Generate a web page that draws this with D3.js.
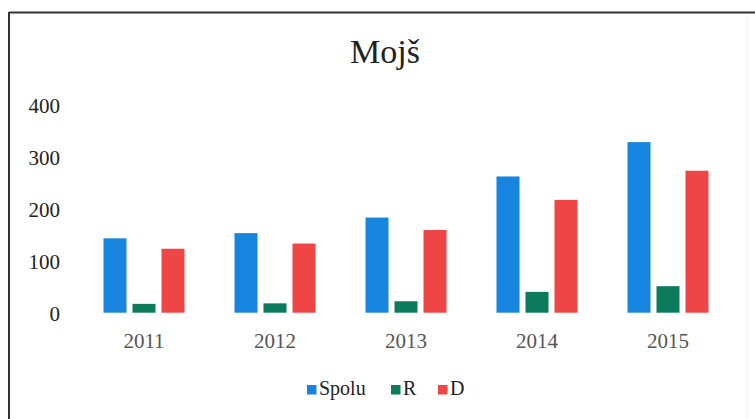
<!DOCTYPE html>
<html>
<head>
<meta charset="utf-8">
<script src="https://cdn.jsdelivr.net/npm/d3@7/dist/d3.min.js"></script>
<style>
  html, body { margin: 0; padding: 0; background: #fff; }
  svg { display: block; }
</style>
</head>
<body>
<svg id="chart" width="755" height="419" font-family="Liberation Serif, Times New Roman, serif"></svg>
<script>
const title = "Mojš";
const categories = ["2011", "2012", "2013", "2014", "2015"];
const seriesNames = ["Spolu", "R", "D"];
const spolu = [143, 153, 183, 262, 328];
const rValues = [17, 18, 22, 40, 51];
const dValues = [123, 133, 159, 217, 273];
const yTicks = [0, 100, 200, 300, 400];
const colors = ["#1784e0", "#0b7b5b", "#ef4545"];

const FONT = "Liberation Serif, Times New Roman, serif";
const seriesValues = [spolu, rValues, dValues];
const data = categories.map((c, i) => ({
  cat: c,
  vals: seriesNames.map((s, j) => ({ key: s, value: seriesValues[j][i], color: colors[j] }))
}));

const svg = d3.select("#chart");

// frame
svg.append("line").attr("x1", 9).attr("x2", 755).attr("y1", 12.5).attr("y2", 12.5)
  .attr("stroke", "#333").attr("stroke-width", 2);
svg.append("line").attr("x1", 9).attr("x2", 9).attr("y1", 12).attr("y2", 419)
  .attr("stroke", "#333").attr("stroke-width", 2);
svg.append("line").attr("x1", 747).attr("x2", 747).attr("y1", 14).attr("y2", 419)
  .attr("stroke", "#f0f0f0").attr("stroke-width", 1);

// title
svg.append("text").attr("x", 385).attr("y", 63).attr("text-anchor", "middle")
  .attr("font-family", FONT).attr("font-size", 34).attr("fill", "#222").text(title);

const y = d3.scaleLinear().domain([0, 400]).range([312.7, 104.7]);
const x0 = d3.scaleBand().domain(categories).range([78.5, 733.5])
  .paddingInner(0.3817).paddingOuter(0.3817 / 2);
const x1 = d3.scaleBand().domain(seriesNames).range([0, x0.bandwidth()])
  .paddingInner(6 / 29).paddingOuter(0);

// y axis labels
const yAxis = d3.axisLeft(y).tickValues(yTicks).tickSize(0).tickPadding(0);
const gy = svg.append("g").attr("transform", "translate(60,0)").call(yAxis)
  .attr("font-family", FONT);
gy.select(".domain").remove();
gy.selectAll("text").attr("font-size", 21).attr("fill", "#222")
  .attr("font-family", FONT).attr("dy", "0.36em");

// x axis labels
const xAxis = d3.axisBottom(x0).tickSize(0).tickPadding(0);
const gx = svg.append("g").attr("transform", "translate(0,333)").call(xAxis)
  .attr("font-family", FONT);
gx.select(".domain").remove();
gx.selectAll("text").attr("font-size", 21).attr("fill", "#555")
  .attr("font-family", FONT).attr("dy", "0.71em");

// bars
const groups = svg.append("g").selectAll("g").data(data).join("g")
  .attr("transform", d => `translate(${x0(d.cat)},0)`);
groups.selectAll("rect").data(d => d.vals).join("rect")
  .attr("x", d => x1(d.key))
  .attr("width", x1.bandwidth())
  .attr("y", d => y(d.value))
  .attr("height", d => y(0) - y(d.value))
  .attr("fill", d => d.color);

// legend
const legendX = [307, 391, 438];
const leg = svg.append("g").selectAll("g").data(seriesNames).join("g")
  .attr("transform", (d, i) => `translate(${legendX[i]},385)`);
leg.append("rect").attr("width", 9.5).attr("height", 9.5).attr("fill", (d, i) => colors[i]);
leg.append("text").attr("x", 12).attr("y", 10).attr("font-size", 20).attr("fill", "#222")
  .attr("font-family", FONT).text(d => d);
</script>
</body>
</html>
